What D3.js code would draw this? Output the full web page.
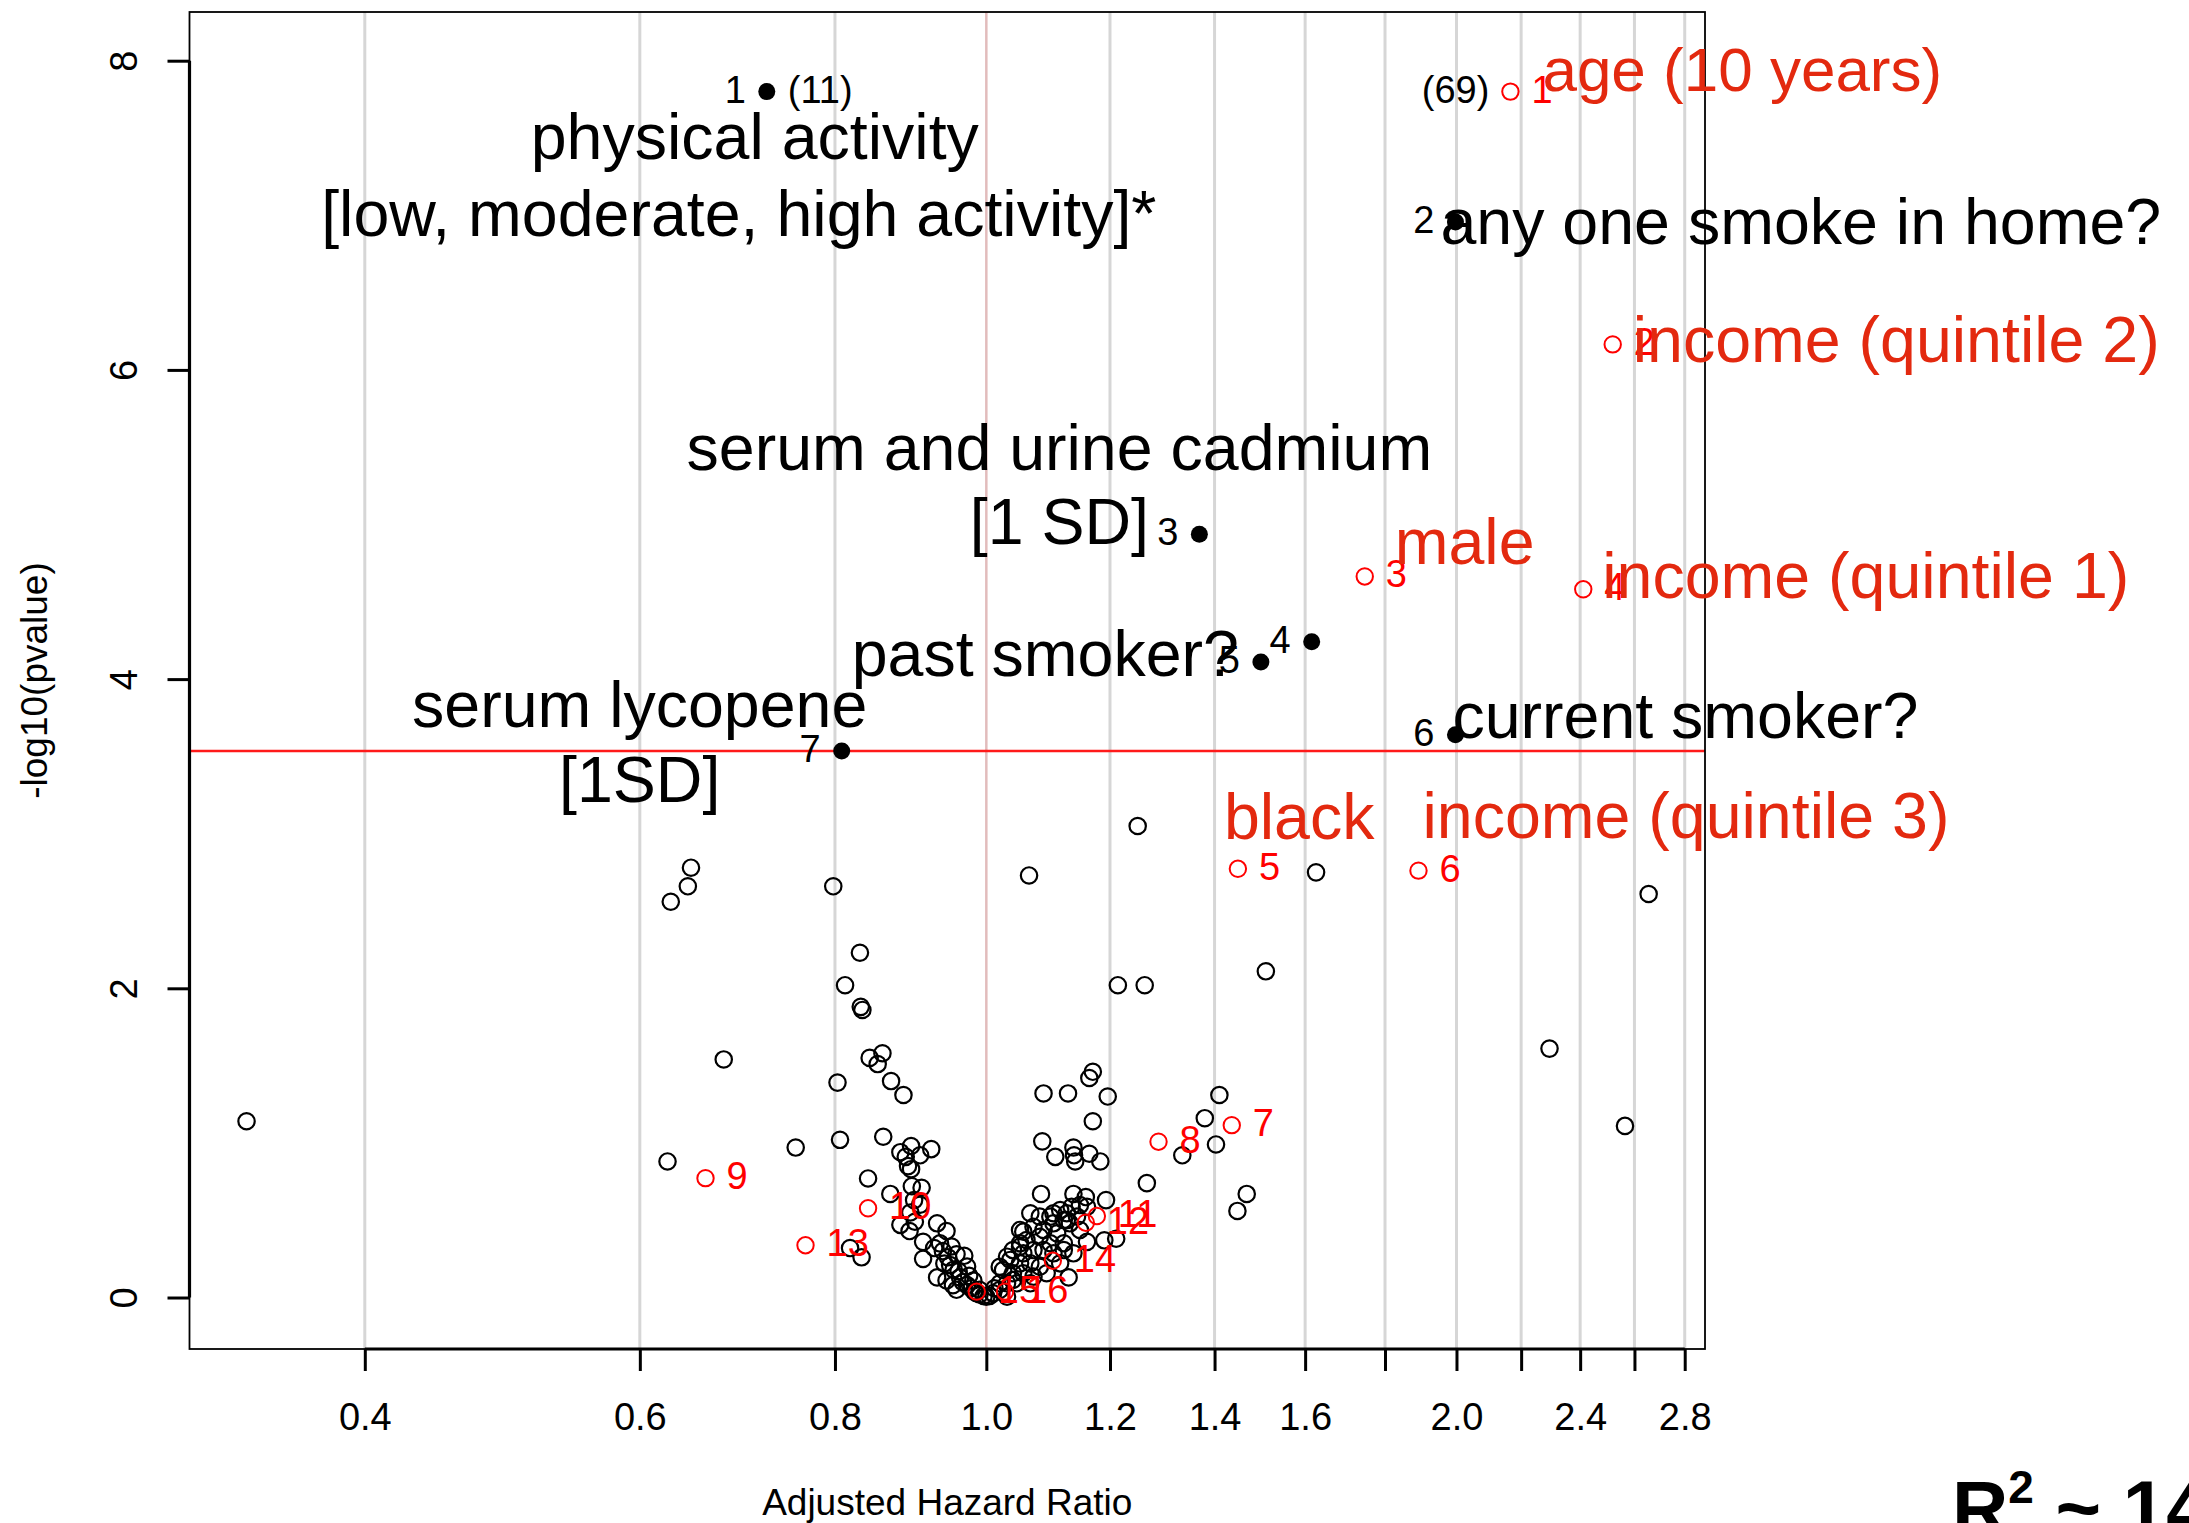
<!DOCTYPE html>
<html><head><meta charset="utf-8">
<script src="https://cdn.jsdelivr.net/npm/d3@7"></script>
<style>html,body{margin:0;padding:0;background:#fff;}svg{display:block;font-family:"Liberation Sans",Arial,Helvetica,sans-serif;}</style>
</head><body><svg id="chart" width="2189" height="1523"></svg>
<script>
// ---------------- DATA ----------------
// x axis ticks (adjusted hazard ratio, log scale)
const xTicks = [0.4, 0.6, 0.8, 1.0, 1.2, 1.4, 1.6, 1.8, 2.0, 2.2, 2.4, 2.6, 2.8];
const xTickLabels = ["0.4", "0.6", "0.8", "1.0", "1.2", "1.4", "1.6", "", "2.0", "", "2.4", "", "2.8"];
const yTicks = [0, 2, 4, 6, 8];
const yTickLabels = ["0", "2", "4", "6", "8"];
const threshold = 3.535;

// significant variables (filled black)
const sigIds = ["1", "2", "3", "4", "5", "6", "7"];
const sigHR = [0.7235, 1.997, 1.369, 1.6156, 1.499, 1.997, 0.808];
const sigP = [7.80, 6.957, 4.937, 4.241, 4.111, 3.640, 3.535];

// highlighted demographic variables (open red)
const redIds = ["1","2","3","4","5","6","7","8","9","10","11","12","13","14","15","16"];
const redHR = [2.1655, 2.518, 1.747, 2.411, 1.449, 1.891, 1.436, 1.289, 0.661, 0.840, 1.177, 1.158, 0.766, 1.103, 0.986, 1.028];
const redP = [7.80, 6.165, 4.664, 4.581, 2.773, 2.761, 1.115, 1.008, 0.772, 0.577, 0.527, 0.484, 0.338, 0.238, 0.038, 0.038];

// all other variables (open black)
const otherHR = [
 0.336,0.625,0.628,0.644,0.647,0.679,0.755,0.798,0.803,0.806,0.812,0.830,0.831,0.833,0.842,0.852,0.858,0.869,0.885,
 0.818,0.832,0.840,0.859,0.868,0.881,0.895,0.922,0.888,0.907,0.891,0.895,0.896,0.909,0.899,0.907,0.894,0.881,0.893,
 0.900,0.911,0.930,0.943,0.934,0.950,0.957,0.968,0.911,0.940,0.930,0.943,0.953,0.962,0.972,0.957,0.972,0.981,0.990,
 0.996,0.985,0.978,0.966,0.960,0.948,0.945,0.926,0.938,0.975,0.952,0.990,0.982,
 1.065,1.250,1.214,1.263,1.510,1.626,2.655,2.294,2.564,1.410,1.380,1.403,1.335,1.468,1.448,1.267,1.170,1.164,1.088,
 1.128,1.196,1.170,1.086,1.107,1.137,1.138,1.140,1.164,1.183,1.084,1.137,1.158,1.193,1.211,1.160,1.190,1.129,
 1.067,1.082,1.099,1.115,1.126,1.134,1.148,1.160,1.143,1.126,1.104,1.051,1.072,1.088,1.110,1.131,1.148,1.082,1.061,
 1.099,1.121,1.051,1.040,1.056,1.072,1.088,1.104,1.121,1.036,1.051,1.067,1.082,1.115,1.137,1.025,1.040,1.056,1.072,
 1.093,1.031,1.046,1.067,1.020,1.031,1.056,1.104,1.121,1.051,1.031,1.020,1.020,1.040,1.010,1.005,1.012,1.000
];
const otherP = [
 1.14,0.88,2.56,2.66,2.78,1.54,0.97,2.66,1.39,1.02,2.02,2.23,1.88,1.86,1.55,1.51,1.58,1.40,1.31,
 0.32,0.26,0.77,1.04,0.67,0.94,0.98,0.96,0.91,0.92,0.85,0.83,0.72,0.71,0.63,0.60,0.55,0.47,0.43,
 0.49,0.36,0.48,0.43,0.35,0.33,0.28,0.27,0.25,0.22,0.13,0.11,0.18,0.13,0.20,0.05,0.08,0.11,0.05,
 0.01,0.03,0.06,0.10,0.17,0.21,0.26,0.32,0.30,0.14,0.08,0.02,0.04,
 2.73,3.05,2.02,2.02,2.11,2.75,2.61,1.61,1.11,1.31,1.16,0.99,0.92,0.67,0.56,0.74,1.46,1.42,1.32,
 1.32,1.30,1.14,1.01,0.91,0.97,0.92,0.88,0.93,0.88,0.67,0.67,0.65,0.63,0.38,0.36,0.37,0.13,
 0.545,0.523,0.523,0.566,0.545,0.587,0.598,0.587,0.523,0.501,0.480,0.437,0.458,0.437,0.415,0.480,0.437,0.393,0.372,
 0.351,0.351,0.329,0.307,0.286,0.307,0.307,0.286,0.307,0.243,0.221,0.221,0.199,0.221,0.286,0.178,0.157,0.157,0.135,
 0.157,0.092,0.092,0.092,0.049,0.005,0.426,0.545,0.501,0.351,0.264,0.199,0.092,0.113,0.027,0.010,0.060,0.005
];

// annotation texts
const bigTexts = ["physical activity", "[low, moderate, high activity]*", "any one smoke in home?",
  "serum and urine cadmium", "[1 SD]", "past smoker?", "current smoker?", "serum lycopene", "[1SD]",
  "age (10 years)", "income (quintile 2)", "male", "income (quintile 1)", "black", "income (quintile 3)"];

// ---------------- LAYOUT ----------------
const W = 2189, H = 1523;
const plot = {left: 189.5, right: 1705, top: 12, bottom: 1349};
const BIG = 64.5, SMALL = 38, AXISF = 38;
const RED_TXT = "#e3290f";
// big label placement: [textIndex, group('sig'|'red'), pointIndex, anchor, dx, dy, color, size]
const bigLayout = [
  [0, "sig", 0, "middle", -12, 67, "#000", BIG],
  [1, "sig", 0, "middle", -28, 144, "#000", BIG],
  [2, "sig", 1, "start", -15, 22, "#000", BIG],
  [3, "sig", 2, "middle", -140, -64, "#000", BIG],
  [4, "sig", 2, "middle", -140, 10, "#000", BIG],
  [5, "sig", 4, "end", -22, 14, "#000", BIG],
  [6, "sig", 5, "start", -3, 3, "#000", BIG],
  [7, "sig", 6, "middle", -202, -24, "#000", BIG],
  [8, "sig", 6, "middle", -202, 51, "#000", BIG],
  [9, "red", 0, "start", 32, -1, RED_TXT, 62],
  [10, "red", 1, "start", 20, 18, RED_TXT, BIG],
  [11, "red", 2, "start", 30, -12, RED_TXT, BIG],
  [12, "red", 3, "start", 19, 9, RED_TXT, BIG],
  [13, "red", 4, "start", -14, -30, RED_TXT, BIG],
  [14, "red", 5, "start", 4, -33, RED_TXT, BIG]
];

const svg = d3.select("#chart");
svg.append("rect").attr("width", W).attr("height", H).attr("fill", "#fff");

const x = d3.scaleLog().domain([0.3089, 2.885]).range([plot.left, plot.right]);
const y = d3.scaleLinear().domain([-0.333, 8.315]).range([plot.bottom, plot.top]);

// vertical grid lines
svg.append("g").selectAll("line").data(xTicks).join("line")
  .attr("x1", d => x(d)).attr("x2", d => x(d))
  .attr("y1", plot.top).attr("y2", plot.bottom)
  .attr("stroke", d => d === 1 ? "#e2bcbc" : "#d6d6d6")
  .attr("stroke-width", d => d === 1 ? 2.5 : 3);

// significance threshold
svg.append("line")
  .attr("x1", plot.left).attr("x2", plot.right)
  .attr("y1", y(threshold)).attr("y2", y(threshold))
  .attr("stroke", "#ff1a1a").attr("stroke-width", 2.5);

// box
svg.append("rect")
  .attr("x", plot.left).attr("y", plot.top)
  .attr("width", plot.right - plot.left).attr("height", plot.bottom - plot.top)
  .attr("fill", "none").attr("stroke", "#000").attr("stroke-width", 1.8);

// x axis
const gx = svg.append("g").attr("transform", `translate(0,${plot.bottom})`)
  .call(d3.axisBottom(x).tickValues(xTicks).tickFormat((d, i) => xTickLabels[i]).tickSize(22).tickSizeOuter(0));
gx.attr("font-size", AXISF).attr("font-family", null);
gx.select(".domain").attr("d", `M${x(xTicks[0])},0H${x(xTicks[xTicks.length - 1])}`)
  .attr("stroke", "#000").attr("stroke-width", 3.2);
gx.selectAll(".tick line").attr("stroke", "#000").attr("stroke-width", 3);
gx.selectAll(".tick text").attr("y", 54).attr("dy", "0.71em").attr("fill", "#000");

// y axis
const gy = svg.append("g").attr("transform", `translate(${plot.left},0)`)
  .call(d3.axisLeft(y).tickValues(yTicks).tickFormat((d, i) => yTickLabels[i]).tickSize(22).tickSizeOuter(0));
gy.attr("font-size", AXISF).attr("font-family", null);
gy.select(".domain").attr("d", `M0,${y(yTicks[0])}V${y(yTicks[yTicks.length - 1])}`)
  .attr("stroke", "#000").attr("stroke-width", 3.2);
gy.selectAll(".tick line").attr("stroke", "#000").attr("stroke-width", 3);
gy.selectAll(".tick text").attr("x", 0).attr("y", 0).attr("dy", 0)
  .attr("transform", "translate(-52.5,0) rotate(-90)")
  .attr("text-anchor", "middle").attr("fill", "#000");

// axis titles
svg.append("text").attr("x", (plot.left + plot.right) / 2).attr("y", 1515)
  .attr("text-anchor", "middle").attr("font-size", 37).text("Adjusted Hazard Ratio");
svg.append("text").attr("transform", `translate(47,${(plot.top + plot.bottom) / 2}) rotate(-90)`)
  .attr("text-anchor", "middle").attr("font-size", 37).text("-log10(pvalue)");

// points
const others = otherHR.map((v, i) => ({hr: v, p: otherP[i]}));
const reds = redHR.map((v, i) => ({hr: v, p: redP[i], id: redIds[i]}));
const sigs = sigHR.map((v, i) => ({hr: v, p: sigP[i], id: sigIds[i]}));

svg.append("g").selectAll("circle").data(others).join("circle")
  .attr("cx", d => x(d.hr)).attr("cy", d => y(d.p)).attr("r", 8.2)
  .attr("fill", "none").attr("stroke", "#000").attr("stroke-width", 2.2);

svg.append("g").selectAll("circle").data(reds).join("circle")
  .attr("cx", d => x(d.hr)).attr("cy", d => y(d.p)).attr("r", 8.2)
  .attr("fill", "none").attr("stroke", "#ff0000").attr("stroke-width", 2);

svg.append("g").selectAll("circle").data(sigs).join("circle")
  .attr("cx", d => x(d.hr)).attr("cy", d => y(d.p)).attr("r", 8.5)
  .attr("fill", "#000");

// number labels
const OFF = 21, VOFF = 11;
svg.append("g").selectAll("text").data(reds).join("text")
  .attr("x", d => x(d.hr) + OFF).attr("y", d => y(d.p) + VOFF)
  .attr("font-size", SMALL).attr("fill", "#ff0000").text(d => d.id);
svg.append("g").selectAll("text").data(sigs).join("text")
  .attr("x", d => x(d.hr) - OFF).attr("y", d => y(d.p) + VOFF)
  .attr("text-anchor", "end").attr("font-size", SMALL).attr("fill", "#000").text(d => d.id);
// counts
svg.append("text").attr("x", x(sigs[0].hr) + OFF).attr("y", y(sigs[0].p) + VOFF)
  .attr("font-size", SMALL).text("(11)");
svg.append("text").attr("x", x(reds[0].hr) - OFF).attr("y", y(reds[0].p) + VOFF)
  .attr("text-anchor", "end").attr("font-size", SMALL).text("(69)");

// big annotations
const groups = {sig: sigs, red: reds};
svg.append("g").selectAll("text").data(bigLayout).join("text")
  .attr("x", d => x(groups[d[1]][d[2]].hr) + d[4])
  .attr("y", d => y(groups[d[1]][d[2]].p) + d[5])
  .attr("text-anchor", d => d[3]).attr("font-size", d => d[7]).attr("fill", d => d[6])
  .text(d => bigTexts[d[0]]);

// R squared note (partly beyond the right and bottom edges, as in the original slide)
const r2 = svg.append("text").attr("x", 1952).attr("y", 1535).attr("font-size", 78).attr("font-weight", "bold");
r2.append("tspan").text("R");
r2.append("tspan").attr("font-size", 46).attr("dy", -32).text("2");
r2.append("tspan").attr("dy", 32).text(" ~ 14%");
</script></body></html>
